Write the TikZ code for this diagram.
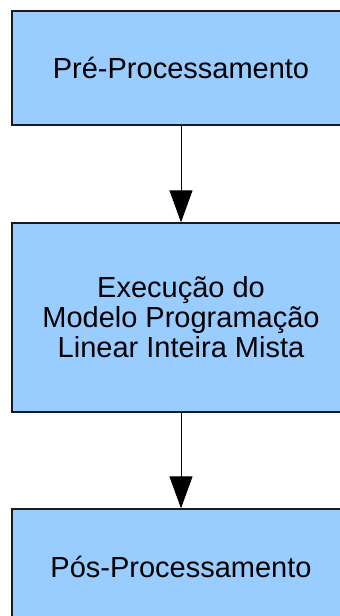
\documentclass[tikz,border=0pt]{standalone}
\usepackage{fontspec}
\setmainfont{Liberation Sans}
\usetikzlibrary{arrows.meta}
\definecolor{boxfill}{HTML}{99CCFF}
\definecolor{boxline}{HTML}{1A1A1A}
\tikzset{
  procbox/.style={draw=boxline, fill=boxfill, line width=1.3pt,
    minimum width=338pt, inner sep=0pt, align=center,
    font=\fontsize{29}{30}\selectfont},
  flowarrow/.style={draw=black, line width=1pt,
    -{Triangle[width=23pt,length=32pt]}}
}
\begin{document}
\begin{tikzpicture}[x=1pt,y=1pt]
  \useasboundingbox (0,0) rectangle (340,616);
  \fill[white] (0,0) rectangle (340,616);
  \clip (0,0) rectangle (340,616);
  % processing stages
  \node[procbox, minimum height=114pt] (pre) at (181,548) {Pré-Processamento};
  \node[procbox, minimum height=189pt] (exec) at (181,298.5)
    {Execução do\\Modelo Programação\\Linear Inteira Mista};
  \node[procbox, minimum height=116pt] (pos) at (181,49) {Pós-Processamento};
  % flow between stages
  \draw[flowarrow] (pre.south) -- (exec.north);
  \draw[flowarrow] (exec.south) -- (pos.north);
\end{tikzpicture}
\end{document}
